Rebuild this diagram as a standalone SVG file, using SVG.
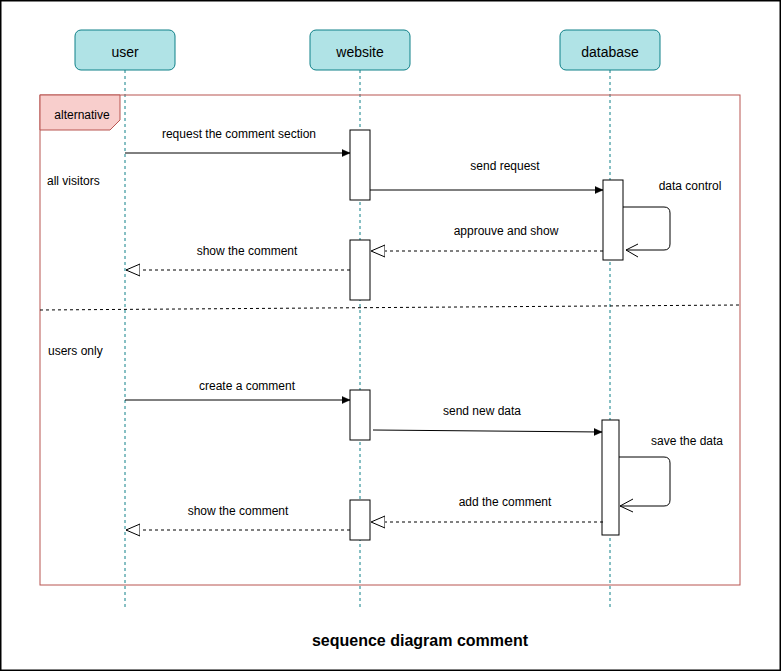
<svg xmlns="http://www.w3.org/2000/svg" width="781" height="671" viewBox="0 0 781 671">
<style>
text{font-family:"Liberation Sans",Arial,sans-serif;font-size:12px;fill:#000}
.head{fill:#b0e3e6;stroke:#0e8088;stroke-width:1}
.hl{font-size:14px;text-anchor:middle}
.life{stroke:#0e8088;stroke-width:1;stroke-dasharray:3,3;fill:none}
.act{fill:#fff;stroke:#000;stroke-width:1}
.msg{stroke:#000;stroke-width:1;fill:none}
.ret{stroke:#000;stroke-width:1;fill:none;stroke-dasharray:3,3}
.c{text-anchor:middle}
</style>
<defs>
<marker id="filled" markerWidth="10" markerHeight="10" refX="8" refY="4" orient="auto" markerUnits="userSpaceOnUse">
<path d="M0,0.5 L8,4 L0,7.5 Z" fill="#000" stroke="#000" stroke-width="0.5"/>
</marker>
<marker id="open" markerWidth="16" markerHeight="14" refX="14" refY="7" orient="auto" markerUnits="userSpaceOnUse">
<path d="M0,1 L14,7 L0,13 Z" fill="#fff" stroke="#000" stroke-width="1"/>
</marker>
</defs>
<rect x="0.75" y="0.75" width="779.5" height="669.5" fill="#fff" stroke="#000" stroke-width="1.5"/>

<g id="lifelines">
<line class="life" x1="125" y1="70" x2="125" y2="607"/>
<line class="life" x1="360" y1="70" x2="360" y2="607"/>
<line class="life" x1="610" y1="70" x2="610" y2="607"/>
</g>

<g id="node-user"><rect class="head" x="75" y="30" width="100" height="40" rx="6"/><text class="hl" x="125" y="57">user</text></g>
<g id="node-website"><rect class="head" x="310" y="30" width="100" height="40" rx="6"/><text class="hl" x="360" y="57">website</text></g>
<g id="node-database"><rect class="head" x="560" y="30" width="100" height="40" rx="6"/><text class="hl" x="610" y="57">database</text></g>

<g id="frame-alt">
<rect x="40" y="95" width="700" height="490" fill="none" stroke="#b85450" stroke-width="1"/>
<path d="M40,95 L120,95 L120,120 L110,130 L40,130 Z" fill="#f8cecc" stroke="#b85450" stroke-width="1"/>
<text class="c" x="82" y="119">alternative</text>
<line x1="40" y1="310" x2="740" y2="305" stroke="#000" stroke-width="1" stroke-dasharray="3,3"/>
<text x="47" y="185">all visitors</text>
<text x="48" y="355">users only</text>
</g>

<g id="activations">
<rect class="act" x="350" y="130" width="20" height="70"/>
<rect class="act" x="603" y="180" width="20" height="80"/>
<rect class="act" x="350" y="240" width="20" height="60"/>
<rect class="act" x="350" y="390" width="20" height="50"/>
<rect class="act" x="602" y="420" width="17" height="115"/>
<rect class="act" x="350" y="500" width="20" height="40"/>
</g>

<g id="connectors">
<line class="msg" x1="125" y1="153" x2="350" y2="153" marker-end="url(#filled)"/>
<line class="msg" x1="370" y1="190" x2="603" y2="190" marker-end="url(#filled)"/>
<path class="msg" d="M623,207 L664,207 Q670,207 670,213 L670,244 Q670,250 664,250 L626,250"/>
<path class="msg" d="M638,244 L626,250 L638,257"/>
<line class="ret" x1="603" y1="251" x2="371" y2="251" marker-end="url(#open)"/>
<line class="ret" x1="350" y1="270" x2="126" y2="270" marker-end="url(#open)"/>
<line class="msg" x1="125" y1="400" x2="350" y2="400" marker-end="url(#filled)"/>
<line class="msg" x1="373" y1="430" x2="602" y2="432" marker-end="url(#filled)"/>
<path class="msg" d="M619,457 L664,457 Q670,457 670,463 L670,500 Q670,506 664,506 L620,506"/>
<path class="msg" d="M633,499 L620,506 L633,512"/>
<line class="ret" x1="603" y1="522" x2="371" y2="522" marker-end="url(#open)"/>
<line class="ret" x1="350" y1="530" x2="126" y2="530" marker-end="url(#open)"/>
</g>

<g id="labels">
<text class="c" x="239" y="138">request the comment section</text>
<text class="c" x="505" y="170">send request</text>
<text class="c" x="690" y="190">data control</text>
<text class="c" x="506" y="235">approuve and show</text>
<text class="c" x="247" y="255">show the comment</text>
<text class="c" x="247" y="390">create a comment</text>
<text class="c" x="482" y="415">send new data</text>
<text class="c" x="687" y="445">save the data</text>
<text class="c" x="505" y="506">add the comment</text>
<text class="c" x="238" y="515">show the comment</text>
</g>

<text x="420" y="646" text-anchor="middle" style="font-size:16px;font-weight:bold">sequence diagram comment</text>
</svg>
